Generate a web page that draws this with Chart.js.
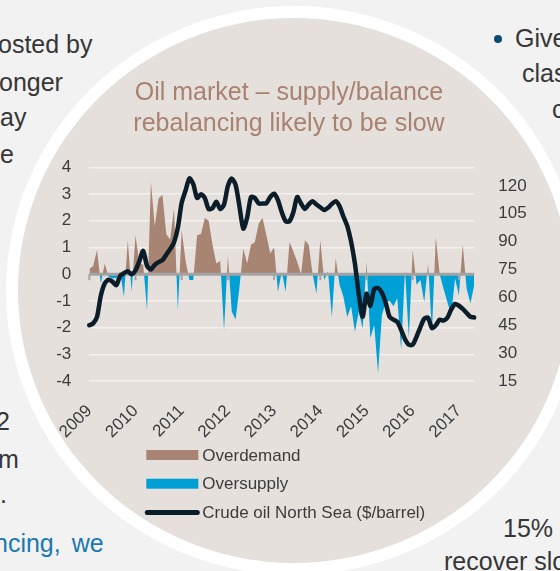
<!DOCTYPE html>
<html>
<head>
<meta charset="utf-8">
<script src="https://cdn.jsdelivr.net/npm/chart.js@4.4.1/dist/chart.umd.min.js"></script>
<style>
  html, body { margin: 0; padding: 0; }
  body {
    width: 560px; height: 571px; position: relative; overflow: hidden;
    background: #f2f2f2; color: #363636;
    font-family: 'Liberation Sans', Arial, sans-serif;
  }
  .txt { position: absolute; font-size: 25px; line-height: 25px; white-space: nowrap; }
  .blue { color: #1a78b0; word-spacing: 4px; }
  .dot { position: absolute; left: 494px; top: 35px; width: 8px; height: 8px; border-radius: 50%; background: #0d4a72; }
  #disc {
    position: absolute; left: 6px; top: 6px; width: 552px; height: 545px;
    border-radius: 50%; background: #e6e0dd; border: 12px solid #fff;
  }
  #chart { position: absolute; left: 0; top: 0; }
</style>
</head>
<body>
<div class="txt" style="left:-2px;top:32px">osted by</div>
<div class="txt" style="left:-1px;top:70px">onger</div>
<div class="txt" style="left:0;top:105px">ay</div>
<div class="txt" style="left:0;top:142px">e</div>
<div class="txt" style="left:-4px;top:409px">2</div>
<div class="txt" style="left:-2px;top:447px">m</div>
<div class="txt" style="left:0;top:482px">.</div>
<div class="txt blue" style="left:-6px;top:531px">ncing, we</div>
<div class="dot"></div>
<div class="txt" style="left:515px;top:26px">Give</div>
<div class="txt" style="left:522px;top:61px">clas</div>
<div class="txt" style="left:552px;top:97px">c</div>
<div class="txt" style="left:503px;top:516px">15%</div>
<div class="txt" style="left:444px;top:549px">recover slo</div>
<div id="disc"></div>
<canvas id="chart" width="560" height="571"></canvas>
<script>
// Jan 2009 - May 2017, monthly
const years = ['2009', '2010', '2011', '2012', '2013', '2014', '2015', '2016', '2017']
const monthNums = ['01', '02', '03', '04', '05', '06', '07', '08', '09', '10', '11', '12']
const months = years.flatMap(y => monthNums.map(m => y + '-' + m)).slice(0, 101)

// supply/demand balance (left axis), >0 overdemand, <0 oversupply
const balance = [
	0.2, 0.3, 0.9, -0.35, 0.4, -0.1, -0.15, -0.15, 0.1, -0.85, 1.27, -0.66,
	1.46, 0.4, 0.35, -1.35, 3.46, 1.8, 2.84, 2.96, 1.5, 1.3, 2.46, -1.35,
	1.65, 0.5, -0.22, -0.22, 1.46, 1.5, 2.1, 2.0, 1.1, 0.4, 0.5, -2.1,
	0.7, -1.4, -1.7, -0.5, 0.96, 0.4, 1.1, 1.2, 1.9, 2.1, 1.46, 0.78,
	1.0, -0.66, 0.1, -0.66, 1.2, 0.85, 0.46, 0, 1.27, 1.1, 0, -0.72,
	1.27, -0.22, 0.11, -1.6, 0.6, -0.4, -0.85, -1.6, -1.2, -2.16, -1.4, -2.04,
	0.46, -2.4, -1.9, -3.7, -1.54, -1.04, -1.0, -1.2, -0.9, -2.85, 0.15, -2.4,
	0.9, -0.4, -0.22, -1.04, 0.4, -2.16, 1.4, 0, -0.54, -1.04, -1.54, -0.16,
	-0.79, 1.1, -0.54, -1.1, -0.4,
]

// crude oil North Sea, $/barrel (right axis)
const crudePrice = [
	45, 46, 49.5, 61, 67.5, 69.5, 68.5, 66.5, 71.5, 73, 74, 72.5,
	74.5, 79.5, 85, 77, 75, 77.5, 79, 80, 83, 86, 89.5, 97.5,
	111, 117.5, 124, 121, 113.5, 115.5, 113.5, 107.5, 108, 111.5, 107.5, 110,
	120, 124, 120.5, 109, 97, 103, 114, 113.5, 110.5, 110.5, 110.7, 114,
	115.8, 112.3, 105.8, 101, 101, 105.8, 114, 110.5, 107.6, 110, 111.7, 110,
	108.5, 107, 108.2, 110.3, 111.8, 109, 103.5, 98.5, 90, 78, 61.5, 49.5,
	62, 55.5, 64.5, 65, 62.5, 57, 49.5, 48, 46.8, 42.5, 37.5, 34.5,
	34.5, 38.8, 44, 48.5, 49, 43.5, 45, 48, 47.5, 49, 53.5, 56.5,
	55.5, 53.8, 51.6, 49.6, 49.2,
]

const balanceTicks = [-4, -3, -2, -1, 0, 1, 2, 3, 4]
const priceTicks = [15, 30, 45, 60, 75, 90, 105, 120]
const titleLines = ['Oil market – supply/balance', 'rebalancing likely to be slow']
const legendLabels = ['Overdemand', 'Oversupply', 'Crude oil North Sea ($/barrel)']

const brown = '#a88473'
const blue = '#00a0d6'
const navy = '#0b1d29'
const zeroGrey = '#a3a3a3'
const textColor = '#3c3c3c'
const FONT = "'Liberation Sans', Arial, sans-serif"

Chart.defaults.font.family = FONT

// grey zero line with year ticks, drawn right above the balance areas
const zeroAxis = {
	id: 'zeroAxis',
	afterDatasetDraw(chart, args) {
		if (args.index !== 0) return
		const { ctx, chartArea, scales: { x, y } } = chart
		const y0 = y.getPixelForValue(0)
		ctx.save()
		ctx.strokeStyle = zeroGrey
		ctx.lineWidth = 2
		months.forEach((m, i) => {
			if (i % 12) return
			const px = x.getPixelForValue(i)
			ctx.beginPath()
			ctx.moveTo(px, y0)
			ctx.lineTo(px, y0 + 6)
			ctx.stroke()
		})
		ctx.lineWidth = 3
		ctx.beginPath()
		ctx.moveTo(chartArea.left, y0)
		ctx.lineTo(chartArea.right, y0)
		ctx.stroke()
		ctx.restore()
	}
}

// legend stacked in one column under the x labels
const stackedLegend = {
	id: 'stackedLegend',
	afterDraw(chart) {
		const { ctx, chartArea } = chart
		const x0 = chartArea.left + 57
		const w = 52
		const items = [
			{ text: legendLabels[0], color: brown, line: false },
			{ text: legendLabels[1], color: blue, line: false },
			{ text: legendLabels[2], color: navy, line: true },
		]
		ctx.save()
		ctx.font = '17px ' + FONT
		ctx.textBaseline = 'middle'
		items.forEach((it, k) => {
			const cy = chartArea.bottom + 74 + k * 28.7
			if (it.line) {
				ctx.strokeStyle = it.color
				ctx.lineWidth = 5
				ctx.lineCap = 'round'
				ctx.beginPath()
				ctx.moveTo(x0 + 1, cy)
				ctx.lineTo(x0 + w - 1, cy)
				ctx.stroke()
			} else {
				ctx.fillStyle = it.color
				ctx.fillRect(x0, cy - 5, w, 10)
			}
			ctx.fillStyle = textColor
			ctx.fillText(it.text, x0 + w + 4, cy + 1)
		})
		ctx.restore()
	}
}

new Chart(document.getElementById('chart'), {
	type: 'line',
	data: {
		labels: months,
		datasets: [
			{
				label: 'Balance',
				data: balance,
				yAxisID: 'y',
				order: 2,
				borderWidth: 0,
				pointRadius: 0,
				tension: 0,
				fill: { target: 'origin', above: brown, below: blue },
			},
			{
				label: legendLabels[2],
				data: crudePrice,
				yAxisID: 'y1',
				order: 1,
				borderColor: navy,
				borderWidth: 4.5,
				borderCapStyle: 'round',
				borderJoinStyle: 'round',
				pointRadius: 0,
				tension: 0.25,
				fill: false,
			},
		],
	},
	options: {
		responsive: false,
		animation: false,
		events: [],
		layout: { padding: { top: 77.8, left: 38, right: 20, bottom: 130 } },
		plugins: {
			legend: { display: false },
			tooltip: { enabled: false },
			title: {
				display: true,
				text: titleLines,
				color: '#a8826f',
				font: { size: 25, weight: 'normal', lineHeight: 1.24 },
				padding: { top: 0, bottom: 27.5 },
			},
		},
		scales: {
			x: {
				grid: { display: false },
				border: { display: false },
				ticks: {
					autoSkip: false,
					minRotation: 45,
					maxRotation: 45,
					padding: 12,
					color: textColor,
					font: { size: 17 },
					callback: (v, i) => i % 12 === 0 ? months[i].slice(0, 4) : '',
				},
				afterFit: (axis) => { axis.height = 60 },
			},
			y: {
				position: 'left',
				min: -4,
				max: 4,
				grid: { color: 'rgba(255, 255, 255, 0.5)', lineWidth: 1.5, drawTicks: false },
				border: { display: false },
				ticks: { padding: 18, color: textColor, font: { size: 17 } },
				afterBuildTicks: (axis) => { axis.ticks = balanceTicks.map(v => ({ value: v })) },
				afterFit: (axis) => { axis.width = 51.3 },
			},
			y1: {
				position: 'right',
				min: 15,
				max: 130,
				grid: { display: false },
				border: { display: false },
				ticks: { padding: 16, color: textColor, font: { size: 17 } },
				afterBuildTicks: (axis) => { axis.ticks = priceTicks.map(v => ({ value: v })) },
				afterFit: (axis) => { axis.width = 65.7 },
			},
		},
	},
	plugins: [zeroAxis, stackedLegend],
})
</script>
</body>
</html>
